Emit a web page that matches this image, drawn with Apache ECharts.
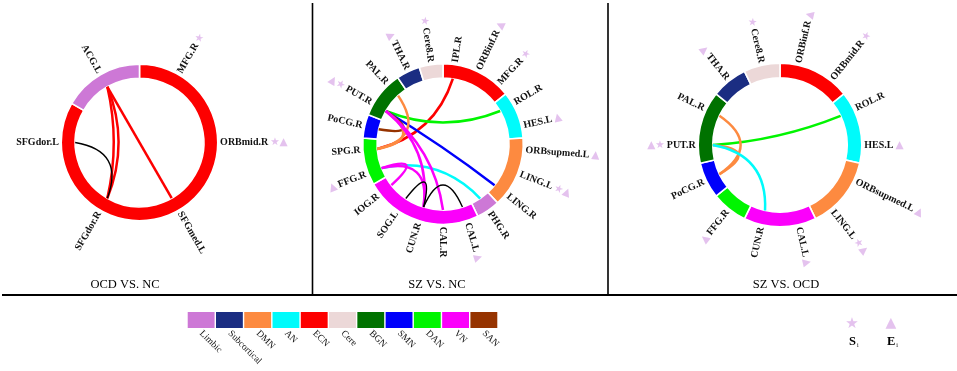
<!DOCTYPE html>
<html>
<head>
<meta charset="utf-8">
<script src="https://cdn.jsdelivr.net/npm/echarts@6.0.0/dist/echarts.min.js"></script>
<style>
  html, body { margin: 0; padding: 0; background: #fff; }
  #chart { width: 957px; height: 371px; }
</style>
</head>
<body>
<div id="chart"></div>
<script>
// network legend
const networks = ['Limbic', 'Subcortical', 'DMN', 'AN', 'ECN', 'Cere', 'BGN', 'SMN', 'DAN', 'VN', 'SAN'];
const netColors = ['#cd78d6', '#1b2d82', '#fd8a40', '#00fbfb', '#fd0000', '#ecd8d8', '#007200', '#0000fb', '#00f500', '#fb00fb', '#963300'];

// OCD vs NC (nodes clockwise from 12 o'clock)
const ocdNodes = ['MFG.R', 'ORBmid.R', 'SFGmed.L', 'SFGdor.R', 'SFGdor.L', 'ACG.L'];
const ocdNets = ['ECN', 'ECN', 'ECN', 'ECN', 'ECN', 'Limbic'];
const ocdMarks = ['S', 'SE', '', '', '', ''];
const ocdEdges = [
  ['ACG.L', 'SFGdor.R', 'ECN'],
  ['ACG.L', 'SFGdor.R', 'ECN'],
  ['ACG.L', 'SFGmed.L', 'ECN'],
  ['SFGdor.L', 'SFGdor.R', 'none']
];

// SZ vs NC
const szNcNodes = ['IPL.R', 'ORBinf.R', 'MFG.R', 'ROL.R', 'HES.L', 'ORBsupmed.L', 'LING.L', 'LING.R', 'PHG.R',
  'CAL.L', 'CAL.R', 'CUN.R', 'SOG.L', 'IOG.R', 'FFG.R', 'SPG.R', 'PoCG.R', 'PUT.R', 'PAL.R', 'THA.R', 'Cere8.R'];
const szNcNets = ['ECN', 'ECN', 'ECN', 'AN', 'AN', 'DMN', 'DMN', 'DMN', 'Limbic',
  'VN', 'VN', 'VN', 'VN', 'VN', 'DAN', 'DAN', 'SMN', 'BGN', 'BGN', 'Subcortical', 'Cere'];
const szNcMarks = ['', 'E', 'S', '', 'E', 'E', 'SE', '', '',
  'E', '', '', '', '', 'E', '', '', 'SE', '', 'E', 'S'];
const szNcEdges = [
  ['IPL.R', 'SPG.R', 'ECN'],
  ['ROL.R', 'PUT.R', 'DAN'],
  ['PUT.R', 'LING.R', 'SMN'],
  ['PoCG.R', 'PUT.R', 'SAN'],
  ['PAL.R', 'SPG.R', 'DMN'],
  ['PUT.R', 'SPG.R', 'DMN'],
  ['FFG.R', 'PHG.R', 'AN'],
  ['PUT.R', 'CUN.R', 'VN'],
  ['PUT.R', 'CAL.R', 'VN'],
  ['FFG.R', 'CUN.R', 'VN'],
  ['FFG.R', 'IOG.R', 'VN'],
  ['SOG.L', 'CUN.R', 'none'],
  ['CUN.R', 'CAL.L', 'none']
];

// SZ vs OCD
const szOcdNodes = ['ORBinf.R', 'ORBmid.R', 'ROL.R', 'HES.L', 'ORBsupmed.L', 'LING.L', 'CAL.L', 'CUN.R',
  'FFG.R', 'PoCG.R', 'PUT.R', 'PAL.R', 'THA.R', 'Cere8.R'];
const szOcdNets = ['ECN', 'ECN', 'AN', 'AN', 'DMN', 'DMN', 'VN', 'VN',
  'DAN', 'SMN', 'BGN', 'BGN', 'Subcortical', 'Cere'];
const szOcdMarks = ['E', 'S', '', 'E', 'E', 'SE', 'E', '', 'E', '', 'SE', '', 'E', 'S'];
const szOcdEdges = [
  ['ROL.R', 'PUT.R', 'DAN'],
  ['PAL.R', 'PoCG.R', 'DMN'],
  ['PUT.R', 'PoCG.R', 'DMN'],
  ['PUT.R', 'CUN.R', 'AN']
];

const panelTitles = ['OCD VS. NC', 'SZ VS. NC', 'SZ VS. OCD'];

const STAR = '#e4c2ee';
const RING_IN = 83, RING_OUT = 101, LINK_R = 83, LABEL_R = 104;

const panels = [
  { nodes: ocdNodes, nets: ocdNets, marks: ocdMarks, edges: ocdEdges, center: [139.5, 142.5], radius: 77.5, tx: 125 },
  { nodes: szNcNodes, nets: szNcNets, marks: szNcMarks, edges: szNcEdges, center: [443, 144], radius: 79.5, tx: 437 },
  { nodes: szOcdNodes, nets: szOcdNets, marks: szOcdMarks, edges: szOcdEdges, center: [780, 145], radius: 81, tx: 786 }
];

const nodeAngle = (i, n) => (2 * i + 1) * 180 / n;

function ringItem(params, api) {
  const c = api.coord([0, 0]);
  const p0 = api.coord([RING_IN, api.value(0)]);
  const p1 = api.coord([RING_OUT, api.value(1)]);
  const r0 = Math.hypot(p0[0] - c[0], p0[1] - c[1]);
  const r = Math.hypot(p1[0] - c[0], p1[1] - c[1]);
  const a0 = Math.atan2(p0[1] - c[1], p0[0] - c[0]);
  let a1 = Math.atan2(p1[1] - c[1], p1[0] - c[0]);
  if (a1 <= a0) a1 += 2 * Math.PI;
  return {
    type: 'sector',
    shape: { cx: c[0], cy: c[1], r0: r0, r: r, startAngle: a0, endAngle: a1, clockwise: true },
    style: { fill: netColors[api.value(2)], stroke: '#fff', lineWidth: 1.6 }
  };
}

function linkItem(params, api) {
  const c = api.coord([0, 0]);
  const a = api.coord([LINK_R, api.value(0)]);
  const b = api.coord([LINK_R, api.value(1)]);
  const k = api.value(3) > 1 ? 0.6 : 0.3; // repeated link drawn a bit flatter
  const mx = (a[0] + b[0]) / 2, my = (a[1] + b[1]) / 2;
  const ni = api.value(2);
  return {
    type: 'bezierCurve',
    shape: {
      x1: a[0], y1: a[1], x2: b[0], y2: b[1],
      cpx1: c[0] + k * (mx - c[0]), cpy1: c[1] + k * (my - c[1])
    },
    style: { stroke: ni >= 0 ? netColors[ni] : '#000', fill: 'none', lineWidth: ni >= 0 ? 2.5 : 1.4 }
  };
}

function labelItem(params, api, p) {
  const ang = api.value(1);
  const pt = api.coord([api.value(0), ang]);
  const name = p.nodes[params.dataIndex];
  const glyph = p.marks[params.dataIndex].split('').map(ch => ch === 'S' ? '★' : '▲').join('');
  const right = ang <= 180 + 1e-6;
  const dir = right ? ang - 90 : ang + 90;
  let text;
  if (right) text = '{t|' + name + '}' + (glyph ? '{m|' + glyph + '}' : '');
  else text = (glyph ? '{n|' + glyph.split('').reverse().join('') + '}' : '') + '{t|' + name + '}';
  return {
    type: 'text',
    x: pt[0], y: pt[1],
    rotation: -dir * Math.PI / 180,
    style: {
      text: text,
      align: right ? 'left' : 'right',
      verticalAlign: 'middle',
      rich: {
        t: { fontFamily: 'Liberation Serif', fontWeight: 'bold', fontSize: 10, fill: '#111' },
        m: { fontFamily: 'DejaVu Sans', fontSize: 10.5, fill: STAR, padding: [0, 0, 0, 2] },
        n: { fontFamily: 'DejaVu Sans', fontSize: 10.5, fill: STAR, padding: [0, 2, 0, 0] }
      }
    }
  };
}

const series = [];
panels.forEach((p, k) => {
  const n = p.nodes.length;
  // ring segments: consecutive nodes of the same network share one arc
  const segs = [];
  p.nets.forEach((net, i) => {
    const ni = networks.indexOf(net);
    const last = segs[segs.length - 1];
    if (last && last[2] === ni) last[1] = (i + 1) * 360 / n;
    else segs.push([i * 360 / n, (i + 1) * 360 / n, ni]);
  });
  series.push({ type: 'custom', coordinateSystem: 'polar', polarIndex: k, data: segs, renderItem: ringItem, z: 2, silent: true });

  const seen = {};
  const links = p.edges.map(e => {
    const key = e[0] + '|' + e[1];
    seen[key] = (seen[key] || 0) + 1;
    return [nodeAngle(p.nodes.indexOf(e[0]), n), nodeAngle(p.nodes.indexOf(e[1]), n), networks.indexOf(e[2]), seen[key]];
  });
  series.push({ type: 'custom', coordinateSystem: 'polar', polarIndex: k, data: links, renderItem: linkItem, z: 3, silent: true });

  series.push({
    type: 'custom', coordinateSystem: 'polar', polarIndex: k, z: 4, silent: true,
    data: p.nodes.map((nm, i) => [LABEL_R, nodeAngle(i, n)]),
    renderItem: (params, api) => labelItem(params, api, p)
  });
});

// network colour key
series.push({
  type: 'bar', xAxisIndex: 0, yAxisIndex: 0, silent: true,
  barCategoryGap: '5%',
  data: networks.map((nm, i) => ({ value: 1, itemStyle: { color: netColors[i] } }))
});

const graphic = [
  { type: 'line', shape: { x1: 2, y1: 295, x2: 957, y2: 295 }, style: { stroke: '#000', lineWidth: 2 } },
  { type: 'line', shape: { x1: 312.5, y1: 3, x2: 312.5, y2: 295 }, style: { stroke: '#000', lineWidth: 1.6 } },
  { type: 'line', shape: { x1: 608, y1: 3, x2: 608, y2: 295 }, style: { stroke: '#000', lineWidth: 1.6 } },
  { type: 'text', x: 852, y: 324, style: { text: '★', font: '15px "DejaVu Sans"', fill: STAR, align: 'center', verticalAlign: 'middle' } },
  { type: 'text', x: 891, y: 323, style: { text: '▲', font: '14px "DejaVu Sans"', fill: STAR, align: 'center', verticalAlign: 'middle' } },
  { type: 'text', x: 849, y: 335, style: { text: '{b|S}{s|i}', rich: {
    b: { fontFamily: 'Liberation Serif', fontWeight: 'bold', fontSize: 12.5, fill: '#000' },
    s: { fontFamily: 'Liberation Serif', fontSize: 6, fill: '#000', padding: [7, 0, 0, 1] } } } },
  { type: 'text', x: 887, y: 335, style: { text: '{b|E}{s|i}', rich: {
    b: { fontFamily: 'Liberation Serif', fontWeight: 'bold', fontSize: 12.5, fill: '#000' },
    s: { fontFamily: 'Liberation Serif', fontSize: 6, fill: '#000', padding: [7, 0, 0, 1] } } } }
];
panels.forEach((p, k) => {
  graphic.push({ type: 'text', x: p.tx, y: 285, style: {
    text: panelTitles[k], font: '12.5px "Liberation Serif"', fill: '#000', align: 'center', verticalAlign: 'middle' } });
});

const chart = echarts.init(document.getElementById('chart'), null, { renderer: 'canvas' });
chart.setOption({
  animation: false,
  backgroundColor: '#fff',
  polar: panels.map(p => ({ center: p.center, radius: p.radius })),
  angleAxis: panels.map((p, k) => ({ polarIndex: k, type: 'value', min: 0, max: 360, startAngle: 90, clockwise: true, show: false })),
  radiusAxis: panels.map((p, k) => ({ polarIndex: k, type: 'value', min: 0, max: 100, show: false })),
  grid: [{ left: 187, top: 312, width: 311, height: 16 }],
  xAxis: [{
    type: 'category', gridIndex: 0, data: networks,
    axisLine: { show: false }, axisTick: { show: false },
    axisLabel: { interval: 0, rotate: -45, margin: 4, fontSize: 9.5, fontFamily: 'Liberation Serif', color: '#111' }
  }],
  yAxis: [{ type: 'value', gridIndex: 0, min: 0, max: 1, show: false }],
  series: series,
  graphic: graphic
});
</script>
</body>
</html>
